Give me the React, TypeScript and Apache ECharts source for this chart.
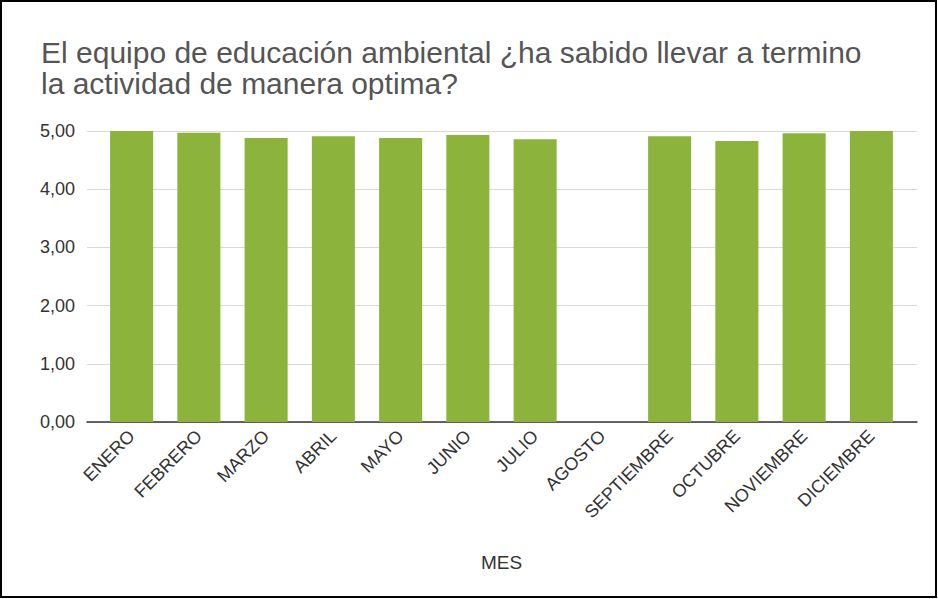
import React, { useEffect, useRef } from "react";
import * as echarts from "echarts";

const titleText = "El equipo de educación ambiental ¿ha sabido llevar a termino\nla actividad de manera optima?";
const months = ["ENERO", "FEBRERO", "MARZO", "ABRIL", "MAYO", "JUNIO", "JULIO", "AGOSTO", "SEPTIEMBRE", "OCTUBRE", "NOVIEMBRE", "DICIEMBRE"];
const scores: (number | null)[] = [5.0, 4.97, 4.88, 4.91, 4.88, 4.93, 4.86, null, 4.91, 4.83, 4.96, 5.0];
const xAxisName = "MES";

const FONT = "Liberation Sans, Arial, sans-serif";

export default function App() {
  const ref = useRef<HTMLDivElement>(null);
  useEffect(() => {
    const chart = echarts.init(ref.current!, null, { renderer: "svg" });
    chart.setOption({
      animation: false,
      backgroundColor: "#fff",
      textStyle: { fontFamily: FONT },
      title: {
        text: titleText,
        left: 41,
        top: 37,
        padding: 0,
        textStyle: { fontSize: 30, fontWeight: "normal", color: "#555", lineHeight: 31, fontFamily: FONT },
      },
      graphic: [
        { type: "rect", shape: { x: 1, y: 1, width: 935, height: 596 }, style: { fill: "none", stroke: "#000", lineWidth: 2 }, silent: true, z: 100 },
      ],
      grid: [
        { left: 98, right: 33, top: 131, bottom: 177 },
        { left: 87, right: 21, top: 131, bottom: 177 },
      ],
      xAxis: [
        {
          type: "category",
          gridIndex: 0,
          data: months,
          name: xAxisName,
          nameLocation: "middle",
          nameGap: 131,
          nameTextStyle: { fontSize: 19, color: "#333" },
          axisLine: { show: false },
          axisTick: { show: false },
          axisLabel: { rotate: 45, fontSize: 18, color: "#333", margin: 11, interval: 0 },
        },
        {
          type: "value",
          gridIndex: 1,
          min: 0,
          max: 1,
          axisLine: { show: true, lineStyle: { color: "#333", width: 1.5 } },
          axisTick: { show: false },
          axisLabel: { show: false },
          splitLine: { show: false },
        },
      ],
      yAxis: [
        {
          type: "value",
          gridIndex: 0,
          min: 0,
          max: 5,
          interval: 1,
          axisLine: { show: false },
          axisTick: { show: false },
          axisLabel: { show: false },
          splitLine: { show: false },
        },
        {
          type: "value",
          gridIndex: 1,
          min: 0,
          max: 5,
          interval: 1,
          axisLine: { show: false },
          axisTick: { show: false },
          splitLine: { lineStyle: { color: "#d9d9d9" } },
          axisLabel: { fontSize: 18, color: "#333", margin: 12, formatter: (v: number) => v.toFixed(2).replace(".", ",") },
        },
      ],
      series: [
        {
          type: "bar",
          xAxisIndex: 0,
          yAxisIndex: 0,
          data: scores,
          barWidth: "64%",
          itemStyle: { color: "#8cb43c" },
          z: 3,
        },
      ],
    });
    return () => chart.dispose();
  }, []);
  return <div ref={ref} style={{ position: "fixed", left: 0, top: 0, width: 938, height: 599 }} />;
}
